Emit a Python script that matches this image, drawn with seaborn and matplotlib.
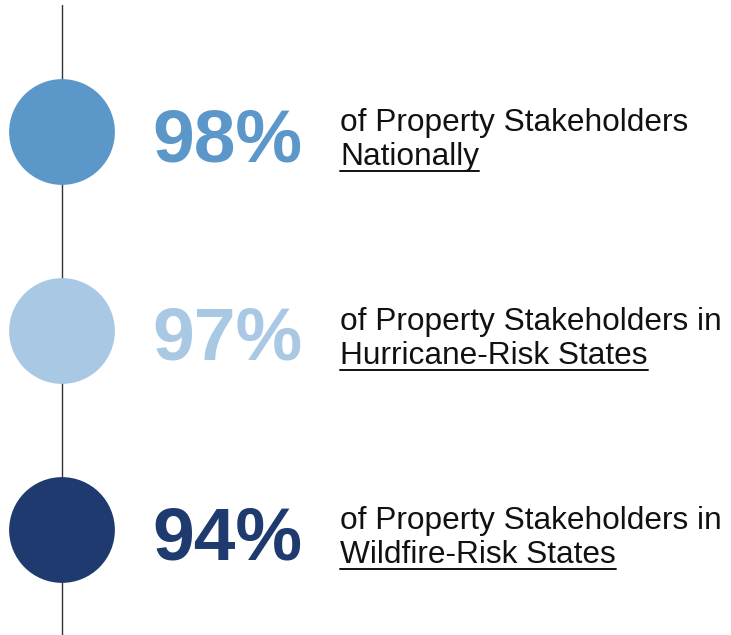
import pandas as pd
import seaborn as sns
import matplotlib.pyplot as plt

# data
values = [98, 97, 94]
line1 = ["of Property Stakeholders", "of Property Stakeholders in", "of Property Stakeholders in"]
line2 = ["Nationally", "Hurricane-Risk States", "Wildfire-Risk States"]
colors = ["#5B97C8", "#A8C8E4", "#1F3A6E"]

sns.set_theme(style="white")
plt.rcParams['font.family'] = ['Liberation Sans', 'DejaVu Sans']

df = pd.DataFrame({"value": values, "label1": line1, "label2": line2, "color": colors})
df["row"] = range(len(df))
df["x"] = 62
df["y"] = 132 + 199 * df["row"]

fig = plt.figure(figsize=(7.31, 6.35), dpi=100)
ax = fig.add_axes([0, 0, 1, 1])
ax.set_xlim(0, 731)
ax.set_ylim(635, 0)
ax.axis("off")

# timeline
ax.plot([62, 62], [5, 635], color="#333333", lw=1.0, zorder=1)

sns.scatterplot(data=df, x="x", y="y", hue="label2", palette=colors, s=5800,
                edgecolor="none", legend=False, ax=ax, zorder=2)

fig.canvas.draw()
renderer = fig.canvas.get_renderer()
inv = ax.transData.inverted()

for _, r in df.iterrows():
    ax.text(152, r["y"] + 29, f"{r['value']}%", color=r["color"], fontsize=54,
            fontweight="bold", ha="left", va="baseline")
    ax.text(340, r["y"] - 1, r["label1"], color="#111111", fontsize=22.8,
            ha="left", va="baseline")
    t = ax.text(340, r["y"] + 33, r["label2"], color="#111111", fontsize=22.8,
                ha="left", va="baseline")
    bb = t.get_window_extent(renderer)
    (x0, _), (x1, _) = inv.transform([(bb.x0, 0), (bb.x1, 0)])
    ax.plot([x0, x1], [r["y"] + 39, r["y"] + 39], color="#111111", lw=1.4)

fig.savefig("out.png", dpi=100)
